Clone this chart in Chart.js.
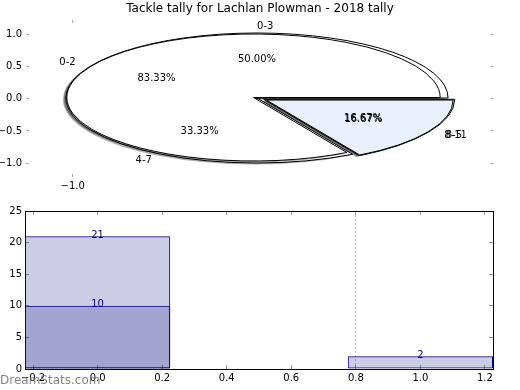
<!DOCTYPE html>
<html><head><meta charset="utf-8">
<script src="https://cdn.jsdelivr.net/npm/chart.js@4.4.1/dist/chart.umd.min.js"></script>
<style>
html,body{margin:0;padding:0;background:#fff;}
#wrap{position:relative;width:520px;height:390px;background:#fff;overflow:hidden;}
canvas{position:absolute;left:0;}
</style></head><body>
<div id="wrap">
<canvas id="axes" width="520" height="195" style="top:0"></canvas>
<canvas id="pie2" width="520" height="195" style="top:0"></canvas>
<canvas id="pie1" width="520" height="195" style="top:0"></canvas>
<canvas id="bars" width="520" height="195" style="top:195px"></canvas>
</div>
<script>
// ---------- data ----------
const chartTitle = 'Tackle tally for Lachlan Plowman - 2018 tally';
const pie1Labels = ['0-2', '8-11'];
const pie1Values = [5, 1];
const pie2Labels = ['0-3', '4-7', '8-5'];
const pie2Values = [3, 2, 1];
const pieYTicks = [-1, -0.5, 0, 0.5, 1];
const pieXTicks = [-1];
const barPositions = [0, 1];
const barSeriesA = [21, 2];
const barSeriesB = [10, null];
const barXTicks = [-0.2, 0, 0.2, 0.4, 0.6, 0.8, 1.0, 1.2];
const barYTicks = [0, 5, 10, 15, 20, 25];
const barRefLine = 0.8;
const watermark = 'DreamStats.com';

// ---------- style ----------
const FONT = "'DejaVu Sans', sans-serif";
Chart.defaults.font.family = FONT;
Chart.defaults.font.size = 10;
Chart.defaults.color = '#000';
Chart.defaults.animation = false;
const TICK_GRAY = '#a8a8a8';
const SLICE_WHITE = '#ffffff';
const SLICE_BLUE = '#eaf0fb';
const NAVY = 'rgb(0,0,128)';
const NAVY_A = 'rgba(0,0,128,0.2)';
const SX = 2.94; // horizontal stretch of the pies (elliptical look)
const SHADOW = {color: 'rgba(0,0,0,0.32)', dx: -3, dy: 1.5};
const barWidth = 0.45;

function fmt1(v) { return (v < 0 ? '\u2212' : '') + Math.abs(v).toFixed(1); }
function fixed(size) { return s => { if (s.isHorizontal()) s.height = size; else s.width = size; }; }
function setTicks(arr) { return s => { s.ticks = arr.map(v => ({value: v})); }; }

// ---------- top axes (ticks + title) ----------
function pieAxis(pos, axis, size, ticksArr, min, max, showLabels, pad) {
  return {
    type: 'linear', axis: axis, position: pos, min: min, max: max,
    afterFit: fixed(size), afterBuildTicks: setTicks(ticksArr),
    grid: {drawOnChartArea: false, drawTicks: true, tickLength: -3, tickColor: TICK_GRAY, tickWidth: 1},
    border: {display: false},
    ticks: {display: showLabels, padding: pad, autoSkip: false, maxRotation: 0, callback: v => fmt1(v)}
  };
}
new Chart(document.getElementById('axes'), {
  type: 'scatter',
  data: {datasets: [{data: []}]},
  options: {
    responsive: false, animation: false, events: [],
    layout: {padding: 0},
    plugins: {
      legend: {display: false}, tooltip: {enabled: false},
      title: {display: true, text: chartTitle, color: '#000',
              font: {size: 12, weight: 'normal', family: FONT}, padding: {top: 2, bottom: 0}}
    },
    scales: {
      x: pieAxis('bottom', 'x', 18, pieXTicks, -1.25, 1.25, true, 6),
      x2: pieAxis('top', 'x', 3.6, pieXTicks, -1.25, 1.25, false, 0),
      y: pieAxis('left', 'y', 26, pieYTicks, -1.214, 1.22, true, 7),
      y2: pieAxis('right', 'y', 26.7, pieYTicks, -1.214, 1.22, false, 0)
    }
  }
});

// ---------- pies ----------
function ellipsePlugin(sx) {
  return {
    id: 'ellipse',
    beforeDatasetsDraw(chart) {
      const ctx = chart.ctx, a = chart.chartArea;
      const cx = (a.left + a.right) / 2;
      ctx.save();
      const base = ctx.getTransform();
      ctx.translate(cx, 0); ctx.scale(sx, 1); ctx.translate(-cx, 0);
      ctx.shadowColor = SHADOW.color; ctx.shadowOffsetX = SHADOW.dx; ctx.shadowOffsetY = SHADOW.dy; ctx.shadowBlur = 0;
      const orig = CanvasRenderingContext2D.prototype.stroke;
      ctx.stroke = function () {
        this.save(); this.setTransform(base); this.shadowColor = 'rgba(0,0,0,0)';
        orig.call(this); this.restore();
      };
    },
    afterDatasetsDraw(chart) {
      const ctx = chart.ctx;
      delete ctx.stroke;
      ctx.restore();
    }
  };
}
function explodePlugin(explode) {
  return {
    id: 'explode',
    afterDatasetsUpdate(chart) {
      const meta = chart.getDatasetMeta(0);
      meta.data.forEach((arc, i) => {
        const e = explode[i] || 0;
        if (!e) return;
        const mid = (arc.startAngle + arc.endAngle) / 2;
        arc.x += e * arc.outerRadius * Math.cos(mid);
        arc.y += e * arc.outerRadius * Math.sin(mid);
      });
    }
  };
}
function pieConfig(labels, values, colors, radius, padding, explode) {
  // matplotlib draws counter-clockwise from east; Chart.js clockwise -> reverse order, start at east
  return {
    type: 'pie',
    data: {
      labels: labels.slice().reverse(),
      datasets: [{
        data: values.slice().reverse(),
        backgroundColor: colors.slice().reverse(),
        borderColor: '#000', borderWidth: 1, clip: false
      }]
    },
    options: {
      responsive: false, animation: false, events: [],
      rotation: 90, radius: radius,
      layout: {padding: padding},
      plugins: {legend: {display: false}, tooltip: {enabled: false}, title: {display: false}}
    },
    plugins: [explodePlugin(explode.slice().reverse()), ellipsePlugin(SX)]
  };
}
const pie2Chart = new Chart(document.getElementById('pie2'),
  pieConfig(pie2Labels, pie2Values, [SLICE_WHITE, SLICE_WHITE, SLICE_BLUE], 65,
            {left: 0, right: 6, top: 1, bottom: 0}, [0, 0, 0.04]));

const pieSets = [
  {getChart: () => pie2Chart, labels: pie2Labels.slice().reverse(), values: pie2Values.slice().reverse()},
  {getChart: null, labels: pie1Labels.slice().reverse(), values: pie1Values.slice().reverse()}
];
const pieLabelPlugin = {
  id: 'pieLabels',
  afterDraw(chart) {
    const ctx = chart.ctx;
    ctx.save();
    ctx.font = '10px ' + FONT;
    ctx.fillStyle = '#000';
    ctx.textBaseline = 'middle';
    pieSets.forEach(set => {
      const c = set.getChart ? set.getChart() : chart;
      const a = c.chartArea, cx = (a.left + a.right) / 2;
      const total = set.values.reduce((s, v) => s + v, 0);
      c.getDatasetMeta(0).data.forEach((arc, i) => {
        const mid = (arc.startAngle + arc.endAngle) / 2, r = arc.outerRadius;
        const px = f => cx + (arc.x + f * r * Math.cos(mid) - cx) * SX;
        const py = f => arc.y + f * r * Math.sin(mid);
        ctx.textAlign = Math.cos(mid) > -1e-9 ? 'left' : 'right';
        ctx.fillText(set.labels[i], px(1.1), py(1.1));
        ctx.textAlign = 'center';
        ctx.fillText((set.values[i] / total * 100).toFixed(2) + '%', px(0.6), py(0.6));
      });
    });
    ctx.restore();
  }
};
const cfg1 = pieConfig(pie1Labels, pie1Values, [SLICE_WHITE, SLICE_BLUE], 63.5,
                       {left: 0, right: 13, top: 0, bottom: 0}, [0, 0.08]);
cfg1.plugins.push(pieLabelPlugin);
new Chart(document.getElementById('pie1'), cfg1);

// ---------- bars ----------
const xTickStep = barXTicks[1] - barXTicks[0];
const minSpacing = Math.min(barPositions[1] - barPositions[0], xTickStep); // Chart.js category size on linear axis
function barAxis(pos, axis, size, ticksArr, min, max, showLabels, extra) {
  return Object.assign({
    type: 'linear', axis: axis, position: pos, min: min, max: max, offset: false,
    afterFit: fixed(size), afterBuildTicks: setTicks(ticksArr),
    grid: {offset: false, drawOnChartArea: false, drawTicks: true, tickLength: -4, tickColor: '#999', tickWidth: 1},
    border: {display: true, color: '#000', width: 1},
    ticks: {display: showLabels, padding: 7, autoSkip: false, maxRotation: 0,
            callback: v => axis === 'x' ? fmt1(v) : String(v)}
  }, extra || {});
}
const barLabelPlugin = {
  id: 'barLabels',
  afterDatasetsDraw(chart) {
    const ctx = chart.ctx;
    ctx.save();
    ctx.font = '10px ' + FONT;
    ctx.fillStyle = NAVY;
    ctx.textAlign = 'center';
    ctx.textBaseline = 'alphabetic';
    chart.data.datasets.forEach((ds, d) => {
      chart.getDatasetMeta(d).data.forEach((bar, i) => {
        const v = ds.data[i].y;
        if (v === null || v === undefined) return;
        ctx.fillText(String(v), bar.x, bar.y + 1.5);
      });
    });
    ctx.restore();
  },
  afterDraw(chart) {
    const ctx = chart.ctx;
    ctx.save();
    ctx.font = '12px ' + FONT;
    ctx.fillStyle = 'rgba(100,100,100,0.8)';
    ctx.textAlign = 'left';
    ctx.textBaseline = 'alphabetic';
    ctx.fillText(watermark, 0, 189);
    ctx.restore();
  }
};
new Chart(document.getElementById('bars'), {
  type: 'bar',
  data: {
    datasets: [
      {data: barPositions.map((p, i) => ({x: p, y: barSeriesA[i]})), order: 2},
      {data: barPositions.map((p, i) => ({x: p, y: barSeriesB[i]})), order: 1}
    ].map(ds => Object.assign(ds, {
      backgroundColor: NAVY_A, borderColor: NAVY, borderWidth: 1, borderSkipped: false,
      grouped: false, categoryPercentage: 1, barPercentage: barWidth / minSpacing,
      xAxisID: 'x', yAxisID: 'y'
    }))
  },
  options: {
    responsive: false, animation: false, events: [],
    layout: {padding: 0},
    plugins: {legend: {display: false}, tooltip: {enabled: false}, title: {display: false}},
    scales: {
      x: barAxis('bottom', 'x', 21, barXTicks, -0.225, 1.225, true, {
        grid: {offset: false, drawOnChartArea: true, drawTicks: true, tickLength: -4, tickColor: '#999', tickWidth: 1, lineWidth: 1,
               color: c => (c.tick && c.tick.value === barRefLine) ? '#c4c4c4' : 'rgba(0,0,0,0)'},
        border: {display: true, color: '#000', width: 1, dash: [2, 2]}
      }),
      x2: barAxis('top', 'x', 16, barXTicks, -0.225, 1.225, false),
      y: barAxis('left', 'y', 25, barYTicks, 0, 25, true),
      y2: barAxis('right', 'y', 27, barYTicks, 0, 25, false)
    }
  },
  plugins: [barLabelPlugin]
});
</script>
</body></html>
